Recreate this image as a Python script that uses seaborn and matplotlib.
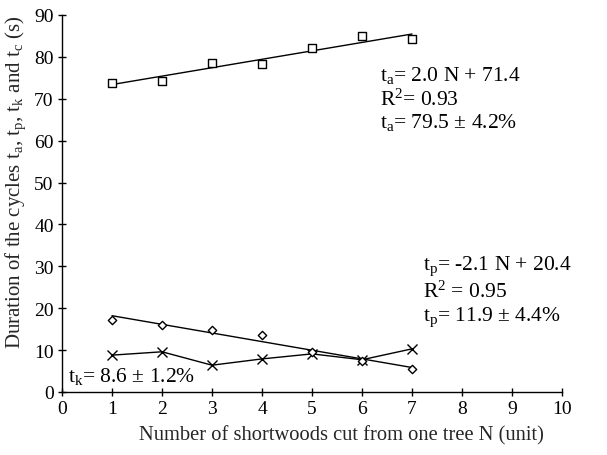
import matplotlib
matplotlib.use("Agg")
import matplotlib.pyplot as plt
import seaborn as sns
import pandas as pd

# Data
N = [1, 2, 3, 4, 5, 6, 7]
t_a = [73.7, 74.3, 78.5, 78.3, 82.1, 84.9, 84.2]
t_p = [17.3, 16.0, 14.8, 13.6, 9.5, 7.5, 5.5]
t_k = [8.8, 9.6, 6.4, 7.9, 9.1, 7.7, 10.3]
x_ticks = [0, 1, 2, 3, 4, 5, 6, 7, 8, 9, 10]
y_ticks = [0, 10, 20, 30, 40, 50, 60, 70, 80, 90]

df = pd.DataFrame({"N": N, "t_a": t_a, "t_p": t_p, "t_k": t_k})

sns.set_style("ticks")
plt.rcParams["font.family"] = ["Liberation Serif", "DejaVu Serif"]
plt.rcParams["mathtext.fontset"] = "custom"
plt.rcParams["mathtext.rm"] = "Liberation Serif"
plt.rcParams["mathtext.it"] = "Liberation Serif:italic"
plt.rcParams["mathtext.default"] = "rm"

fig, ax = plt.subplots(figsize=(6.07, 4.56), dpi=100)
fig.subplots_adjust(left=62/607, right=562/607, bottom=(456-393)/456, top=(456-16)/456)

lw = 1.0
# t_a: squares + linear fit
sns.regplot(data=df, x="N", y="t_a", ax=ax, ci=None, scatter=False,
            line_kws=dict(color="black", lw=lw))
sns.scatterplot(data=df, x="N", y="t_a", ax=ax, marker="s", s=40,
                facecolor="white", edgecolor="black", linewidth=1.0, zorder=3)
# t_p: diamonds + linear fit
sns.regplot(data=df, x="N", y="t_p", ax=ax, ci=None, scatter=False,
            line_kws=dict(color="black", lw=lw))
sns.scatterplot(data=df, x="N", y="t_p", ax=ax, marker="D", s=18,
                facecolor="white", edgecolor="black", linewidth=1.0, zorder=3)
# t_k: crosses joined by line
sns.lineplot(data=df, x="N", y="t_k", ax=ax, color="black", lw=lw,
             marker="x", markersize=6.5, markeredgewidth=1.0, markeredgecolor="black")

ax.set_xlim(0, 10)
ax.set_ylim(0, 90)
ax.set_xticks(x_ticks)
ax.set_yticks(y_ticks)
sns.despine(ax=ax)
for s in ["left", "bottom"]:
    ax.spines[s].set_linewidth(1.0)
    ax.spines[s].set_color("black")
ax.tick_params(direction="inout", length=6, width=1.0, colors="black",
               labelsize=14, pad=3)
ax.set_xlabel("Number of shortwoods cut from one tree N (unit)", fontsize=14.8)
ax.set_ylabel(r"Duration of the cycles t$_{a}$, t$_{p}$, t$_{k}$ and t$_{c}$ (s)",
              fontsize=15)
ax.xaxis.set_label_coords(0.558, -0.088)
ax.yaxis.set_label_coords(-0.068, 0.56)

fs = 15.5
kw = dict(transform=ax.transAxes, fontsize=fs, va="center", ha="left", color="black")
ax.text(0.636, 0.843, r"t$_{a}$= 2.0 N + 71.4", **kw)
ax.text(0.636, 0.777, r"R$^{2}$= 0.93", **kw)
ax.text(0.636, 0.717, r"t$_{a}$= 79.5 $\pm$ 4.2%", **kw)
ax.text(0.722, 0.335, r"t$_{p}$= -2.1 N + 20.4", **kw)
ax.text(0.722, 0.268, r"R$^{2}$ = 0.95", **kw)
ax.text(0.722, 0.200, r"t$_{p}$= 11.9 $\pm$ 4.4%", **kw)
ax.text(0.012, 0.045, r"t$_{k}$= 8.6 $\pm$ 1.2%", **kw)

fig.savefig("out.png", dpi=100)
